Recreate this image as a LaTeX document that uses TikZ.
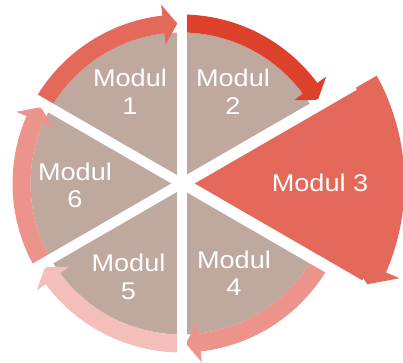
\documentclass[tikz,border=0pt]{standalone}
\usepackage{fontspec}
\setmainfont{Liberation Sans}[FakeStretch=1.12]
\definecolor{tanc}{HTML}{BFA89E}
\definecolor{cone}{HTML}{E4695B}
\definecolor{ctwo}{HTML}{DD412B}
\definecolor{cthree}{HTML}{E4695B}
\definecolor{cfour}{HTML}{EC938B}
\definecolor{cfive}{HTML}{F4BEBB}
\definecolor{csix}{HTML}{EC938B}
\begin{document}
\begin{tikzpicture}[x=1pt,y=1pt,
  wedgefill/.style={fill=tanc},
  gapline/.style={draw=white,line width=10pt},
  modtext/.style={text=white,font=\fontsize{24.2}{27.7}\selectfont,align=center,inner sep=0pt}]
\useasboundingbox (0,0) rectangle (403,362);
\coordinate (C) at (181.5,178.5);
\begin{scope}[shift={(C)}]
  % plain wedges
  \foreach \a in {90,30,-90,-150,150}
    \fill[wedgefill] (0,0) -- (\a:151) arc[start angle=\a, end angle=\a+60, radius=151] -- cycle;
  % arrow bands (clockwise, ending at angle \e)
  \foreach \e/\c in {90/cone,30/ctwo,-90/cfour,-150/cfive,150/csix}
    \fill[\c] ({\e+60}:169) arc[start angle=\e+60, end angle=\e+6.5, radius=169]
      -- ({\e+6.5}:180) -- ({\e+1.5}:160) -- ({\e+6.5}:140) -- ({\e+6.5}:151)
      arc[start angle=\e+6.5, end angle=\e+60, radius=151] -- cycle;
  % gaps
  \foreach \a in {90,30,-30,-90,-150,150}
    \draw[gapline] (0,0) -- (\a:250);
  % emphasised Modul 3: one filled region (wedge + band + arrowhead)
  \begin{scope}
    \clip (13.2,0) -- ++(30:300) -- ++(-90:300) -- cycle;
    \fill[cthree] (0,0) -- (30:205) arc[start angle=30, end angle=-30, radius=205] -- cycle;
  \end{scope}
  \begin{scope}
    \clip (8.5,0) -- ++(30:300) -- ++(-90:300) -- cycle;
    \fill[cthree] (30:223) arc[start angle=30, end angle=-23.5, radius=223]
      -- (-23.5:237.6) -- (-28.5:211.2) -- (-23.5:184.8) -- (-23.5:199)
      arc[start angle=-23.5, end angle=30, radius=199] -- cycle;
  \end{scope}
\end{scope}
% labels
\node[modtext] (m1) at (130,270.4) {Modul\\1};
\node[modtext] (m2) at (233,270.4) {Modul\\2};
\node[modtext] (m3) at (320,179) {Modul 3};
\node[modtext] (m4) at (234,88.7) {Modul\\4};
\node[modtext] (m5) at (128.5,85.4) {Modul\\5};
\node[modtext] (m6) at (75,176.7) {Modul\\6};
\end{tikzpicture}
\end{document}
